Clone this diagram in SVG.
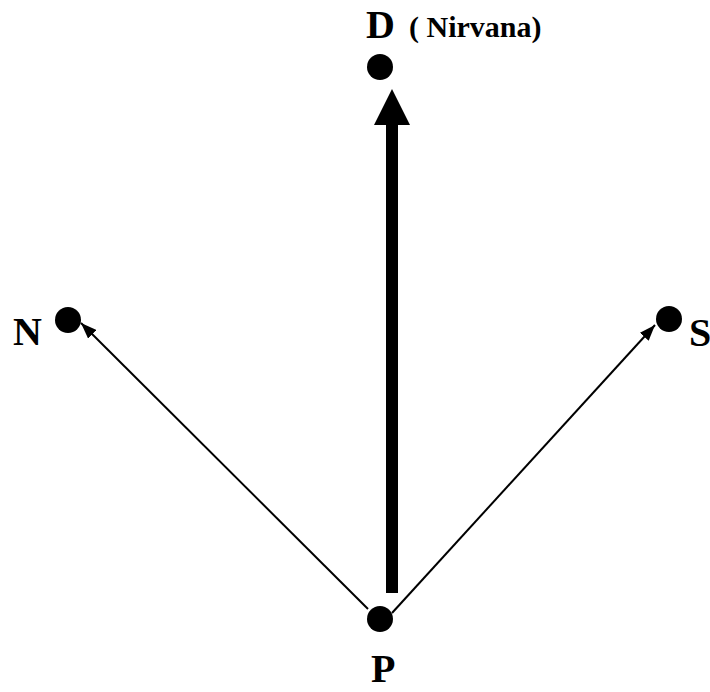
<svg xmlns="http://www.w3.org/2000/svg" width="710" height="692" viewBox="0 0 710 692">
<style>
.lbl{font-family:"Liberation Serif","Times New Roman",serif;font-weight:bold;fill:#000}
.big{font-size:40px}
.small{font-size:30px}
.dot{fill:#000}
.thin{stroke:#000;stroke-width:2;fill:none}
</style>
<defs>
<marker id="ah" viewBox="0 0 16 12" refX="16" refY="6" markerWidth="16" markerHeight="12" markerUnits="userSpaceOnUse" orient="auto">
<path d="M0,0 L16,6 L0,12 Z" fill="#000"/>
</marker>
</defs>
<rect width="710" height="692" fill="#fff"/>
<g id="connectors">
<line class="thin" x1="368" y1="609" x2="81" y2="323" marker-end="url(#ah)"/>
<line class="thin" x1="392" y1="613" x2="655" y2="325" marker-end="url(#ah)"/>
<rect x="386" y="122" width="12" height="471" fill="#000"/>
<path d="M392,89 L410,125 L374,125 Z" fill="#000"/>
</g>
<g id="node-D">
<circle class="dot" cx="380" cy="67" r="13"/>
<text class="lbl big" x="366" y="38">D</text>
<text class="lbl small" x="409" y="37">( Nirvana)</text>
</g>
<g id="node-N">
<circle class="dot" cx="68" cy="320" r="13"/>
<text class="lbl big" x="13" y="345">N</text>
</g>
<g id="node-S">
<circle class="dot" cx="669" cy="319" r="13"/>
<text class="lbl big" x="689" y="346">S</text>
</g>
<g id="node-P">
<circle class="dot" cx="380" cy="619" r="13"/>
<text class="lbl big" x="371" y="682">P</text>
</g>
</svg>
